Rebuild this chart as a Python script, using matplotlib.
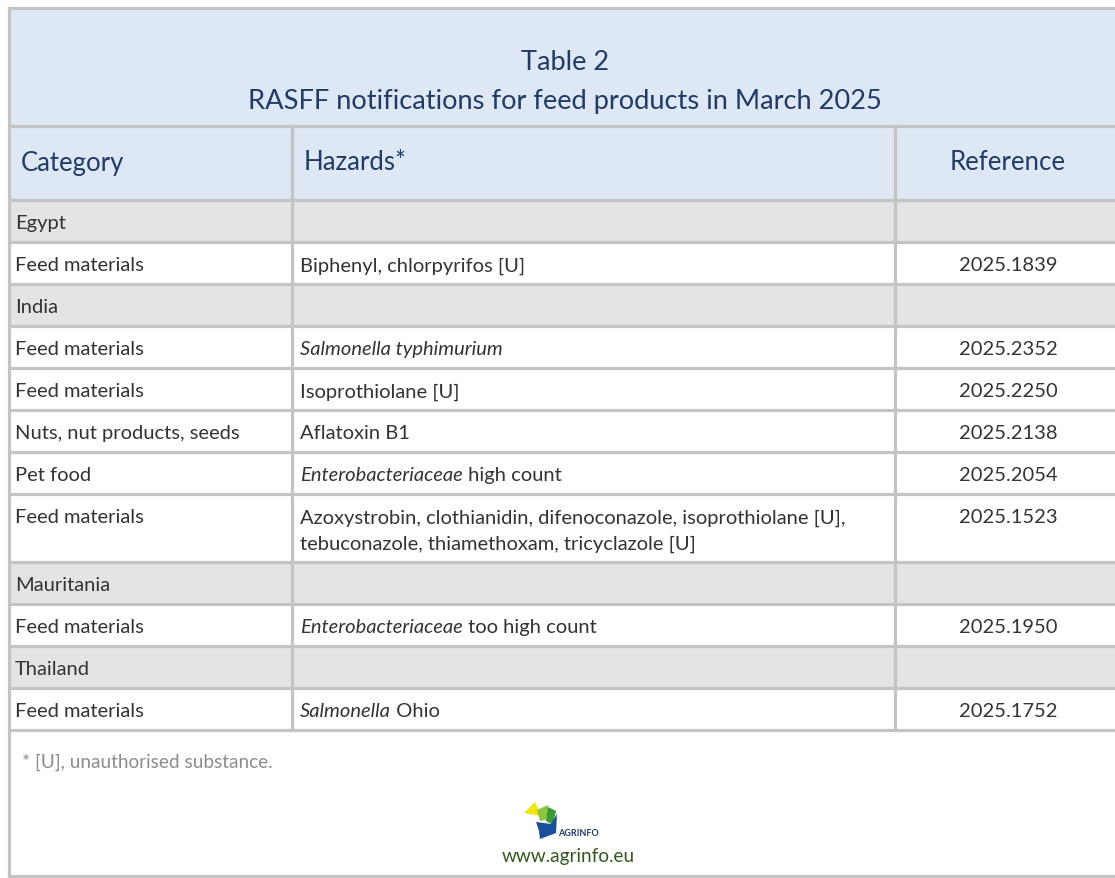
import matplotlib.pyplot as plt
from matplotlib.patches import Rectangle, Polygon

# table content
title_lines = ["Table 2", "RASFF notifications for feed products in March 2025"]
headers = ["Category", "Hazards*", "Reference"]
categories = ["Egypt", "Feed materials", "India", "Feed materials", "Feed materials",
              "Nuts, nut products, seeds", "Pet food", "Feed materials", "Mauritania",
              "Feed materials", "Thailand", "Feed materials"]
# text between underscores is italic
hazards = ["", "Biphenyl, chlorpyrifos [U]", "", "_Salmonella typhimurium_",
           "Isoprothiolane [U]", "Aflatoxin B1", "_Enterobacteriaceae_ high count",
           "Azoxystrobin, clothianidin, difenoconazole, isoprothiolane [U],\n"
           "tebuconazole, thiamethoxam, tricyclazole [U]",
           "", "_Enterobacteriaceae_ too high count", "", "_Salmonella_ Ohio"]
references = ["", "2025.1839", "", "2025.2352", "2025.2250", "2025.2138", "2025.2054",
              "2025.1523", "", "2025.1950", "", "2025.1752"]
is_country = [True, False, True, False, False, False, False, False, True, False, True, False]
footnote = "* [U], unauthorised substance."
website = "www.agrinfo.eu"

W, H = 1115, 879
FONT = "Lato"
navy = "#1f3b66"
txt = "#333333"
line_c = "#c4c4c4"
blue_bg = "#dde8f4"
grey_bg = "#e4e4e4"

fig = plt.figure(figsize=(W / 100, H / 100), dpi=100)
ax = fig.add_axes([0, 0, 1, 1])
ax.set_xlim(0, W)
ax.set_ylim(H, 0)
ax.axis("off")
renderer = fig.canvas.get_renderer()

left, right = 9, 1121
col_x = [left, 292, 895, right]
top, title_bottom, header_bottom = 9, 127, 201
row_h, line_h = 42, 26
fs = 14.5
fs_title = 19.6
fs_head = 18.5


def rich_text(x, y, s, **kw):
    # draw text segment by segment, toggling italic at each underscore
    for i, seg in enumerate(s.split("_")):
        if not seg:
            continue
        t = ax.text(x, y, seg, style="italic" if i % 2 else "normal", **kw)
        x += t.get_window_extent(renderer).width


# title + header blocks
ax.add_patch(Rectangle((left, top), right - left, header_bottom - top, color=blue_bg, lw=0))
ax.text((left + right) / 2, 63, title_lines[0], ha="center", va="center",
        fontsize=fs_title, color=navy, family=FONT)
ax.text((left + right) / 2, 101, title_lines[1], ha="center", va="center",
        fontsize=fs_title, color=navy, family=FONT)
ax.text(col_x[0] + 12, 163, headers[0], ha="left", va="center", fontsize=fs_head, color=navy, family=FONT)
ax.text(col_x[1] + 12, 163, headers[1], ha="left", va="center", fontsize=fs_head, color=navy, family=FONT)
ax.text((col_x[2] + col_x[3]) / 2, 163, headers[2], ha="center", va="center",
        fontsize=fs_head, color=navy, family=FONT)

# body rows
y = header_bottom
row_edges = [y]
for cat, haz, ref, country in zip(categories, hazards, references, is_country):
    n = haz.count("\n") + 1
    h = row_h if n == 1 else row_h + line_h
    if country:
        ax.add_patch(Rectangle((left, y), right - left, h, color=grey_bg, lw=0))
    ty = y + row_h / 2 + 2
    ax.text(col_x[0] + 6, ty, cat, va="center", fontsize=fs, color=txt, family=FONT)
    for k, part in enumerate(haz.split("\n")):
        rich_text(col_x[1] + 8, ty + k * line_h, part, va="center", fontsize=fs,
                  color=txt, family=FONT)
    ax.text((col_x[2] + col_x[3]) / 2, ty, ref, ha="center", va="center",
            fontsize=fs, color=txt, family=FONT)
    y += h
    row_edges.append(y)
body_bottom = y

# grid lines
lw = 2.3
for e in [title_bottom, header_bottom] + row_edges:
    ax.plot([left, right], [e, e], color=line_c, lw=lw, solid_capstyle="butt")
for cx in col_x[1:3]:
    ax.plot([cx, cx], [title_bottom, body_bottom], color=line_c, lw=lw)
ax.plot([left, right], [top, top], color=line_c, lw=lw)
ax.plot([left, left], [top, H - 2], color=line_c, lw=lw)
ax.plot([left, right], [H - 2, H - 2], color=line_c, lw=lw)

# footer
ax.text(col_x[0] + 13, 762, footnote, va="center", fontsize=13.7, color="#8c8c8c", family=FONT)

# logo
ax.add_patch(Polygon([(524, 814), (535, 803), (541, 817)], color="#f2e600", lw=0))
ax.add_patch(Polygon([(537, 811), (548, 806), (550, 820), (540, 822)], color="#8cc63f", lw=0))
ax.add_patch(Polygon([(548, 808), (556, 812), (553, 826), (546, 822)], color="#3a9a3a", lw=0))
ax.add_patch(Polygon([(536, 823), (551, 825), (557, 815), (556, 834), (540, 840), (539, 832)],
                     color="#1a4f9c", lw=0))
ax.text(558, 834, "AGRINFO", ha="left", va="center", fontsize=6.5, fontweight="bold",
        color="#1f3b66", family=FONT)
ax.text(568, 857, website, ha="center", va="center", fontsize=13.7, color="#2f5a1c", family=FONT)

fig.savefig("out.png", dpi=100)
